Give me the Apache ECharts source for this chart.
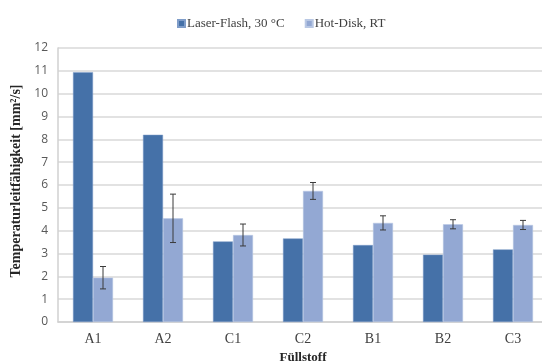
<!DOCTYPE html>
<html>
<head>
<meta charset="utf-8">
<style>
  html, body { margin: 0; padding: 0; background: #fff; }
  #chart { width: 542px; height: 361px; }
</style>
<script src="https://cdn.jsdelivr.net/npm/echarts@6/dist/echarts.min.js"></script>
</head>
<body>
<div id="chart"></div>
<script>
var categories = ['A1', 'A2', 'C1', 'C2', 'B1', 'B2', 'C3'];
var laserFlash = [10.94, 8.2, 3.53, 3.66, 3.37, 2.95, 3.18];
var hotDisk = [1.94, 4.54, 3.81, 5.74, 4.34, 4.28, 4.25];
var hotDiskErr = [0.49, 1.06, 0.48, 0.37, 0.31, 0.2, 0.2];
var yTicks = [0, 1, 2, 3, 4, 5, 6, 7, 8, 9, 10, 11, 12];

;(function(){
  var myChart = echarts.init(document.getElementById('chart'));
  var barW = 20;
  var serif = '"Liberation Serif", "DejaVu Serif", serif';

  var errData = hotDisk.map(function (v, i) {
    return [i, v - hotDiskErr[i], v + hotDiskErr[i]];
  });

  var option = {
    animation: false,
    backgroundColor: '#fff',
    legend: {
      top: 12,
      left: 172,
      itemWidth: 7,
      itemHeight: 7,
      itemGap: 20,
      icon: 'rect',
      textStyle: { fontFamily: serif, fontSize: 13, color: '#404040', padding: [0, 0, 0, -3] },
      data: ['Laser-Flash, 30 °C', 'Hot-Disk, RT']
    },
    grid: { left: 58, right: -6, top: 48, bottom: 39, outerBoundsMode: 'none', containLabel: false },
    xAxis: {
      type: 'category',
      data: categories,
      name: 'Füllstoff',
      nameLocation: 'middle',
      nameGap: 28,
      nameTextStyle: { fontFamily: serif, fontSize: 13, fontWeight: 'bold', color: '#262626' },
      axisLine: { lineStyle: { color: '#d0d0d0', width: 1.5 } },
      axisTick: { show: false },
      axisLabel: { fontFamily: serif, fontSize: 14, color: '#404040', margin: 10 }
    },
    yAxis: {
      type: 'value',
      min: yTicks[0],
      max: yTicks[yTicks.length - 1],
      interval: 1,
      name: 'Temperaturleitfähigkeit [mm²/s]',
      nameLocation: 'middle',
      nameGap: 25,
      nameTextStyle: { fontFamily: serif, fontSize: 14, fontWeight: 'bold', color: '#262626', padding: [0, 0, 0, 8] },
      axisLine: { show: true, lineStyle: { color: '#d0d0d0', width: 1.5 } },
      axisTick: { show: false },
      axisLabel: { fontFamily: '"Open Sans", sans-serif', fontSize: 12, color: '#595959', margin: 10 },
      splitLine: { lineStyle: { color: '#d9d9d9', width: 1.5 } }
    },
    series: [
      {
        name: 'Laser-Flash, 30 °C',
        type: 'bar',
        barWidth: barW,
        barGap: '0%',
        itemStyle: { color: '#4571a8', borderColor: '#7f9dc9', borderWidth: 0.5 },
        data: laserFlash
      },
      {
        name: 'Hot-Disk, RT',
        type: 'bar',
        barWidth: barW,
        barGap: '0%',
        itemStyle: { color: '#93a8d3', borderColor: '#b9c8e4', borderWidth: 0.5 },
        data: hotDisk
      },
      {
        name: 'err',
        type: 'custom',
        z: 10,
        data: errData,
        encode: { x: 0, y: [1, 2] },
        renderItem: function (params, api) {
          var lo = api.coord([api.value(0), api.value(1)]);
          var hi = api.coord([api.value(0), api.value(2)]);
          var x = lo[0] + barW / 2;
          var cap = 3;
          var style = { stroke: '#3a3a3a', lineWidth: 1 };
          return {
            type: 'group',
            children: [
              { type: 'line', shape: { x1: x, y1: lo[1], x2: x, y2: hi[1] }, style: style },
              { type: 'line', shape: { x1: x - cap, y1: lo[1], x2: x + cap, y2: lo[1] }, style: style },
              { type: 'line', shape: { x1: x - cap, y1: hi[1], x2: x + cap, y2: hi[1] }, style: style }
            ]
          };
        }
      }
    ]
  };

  myChart.setOption(option);
})();
</script>
</body>
</html>
